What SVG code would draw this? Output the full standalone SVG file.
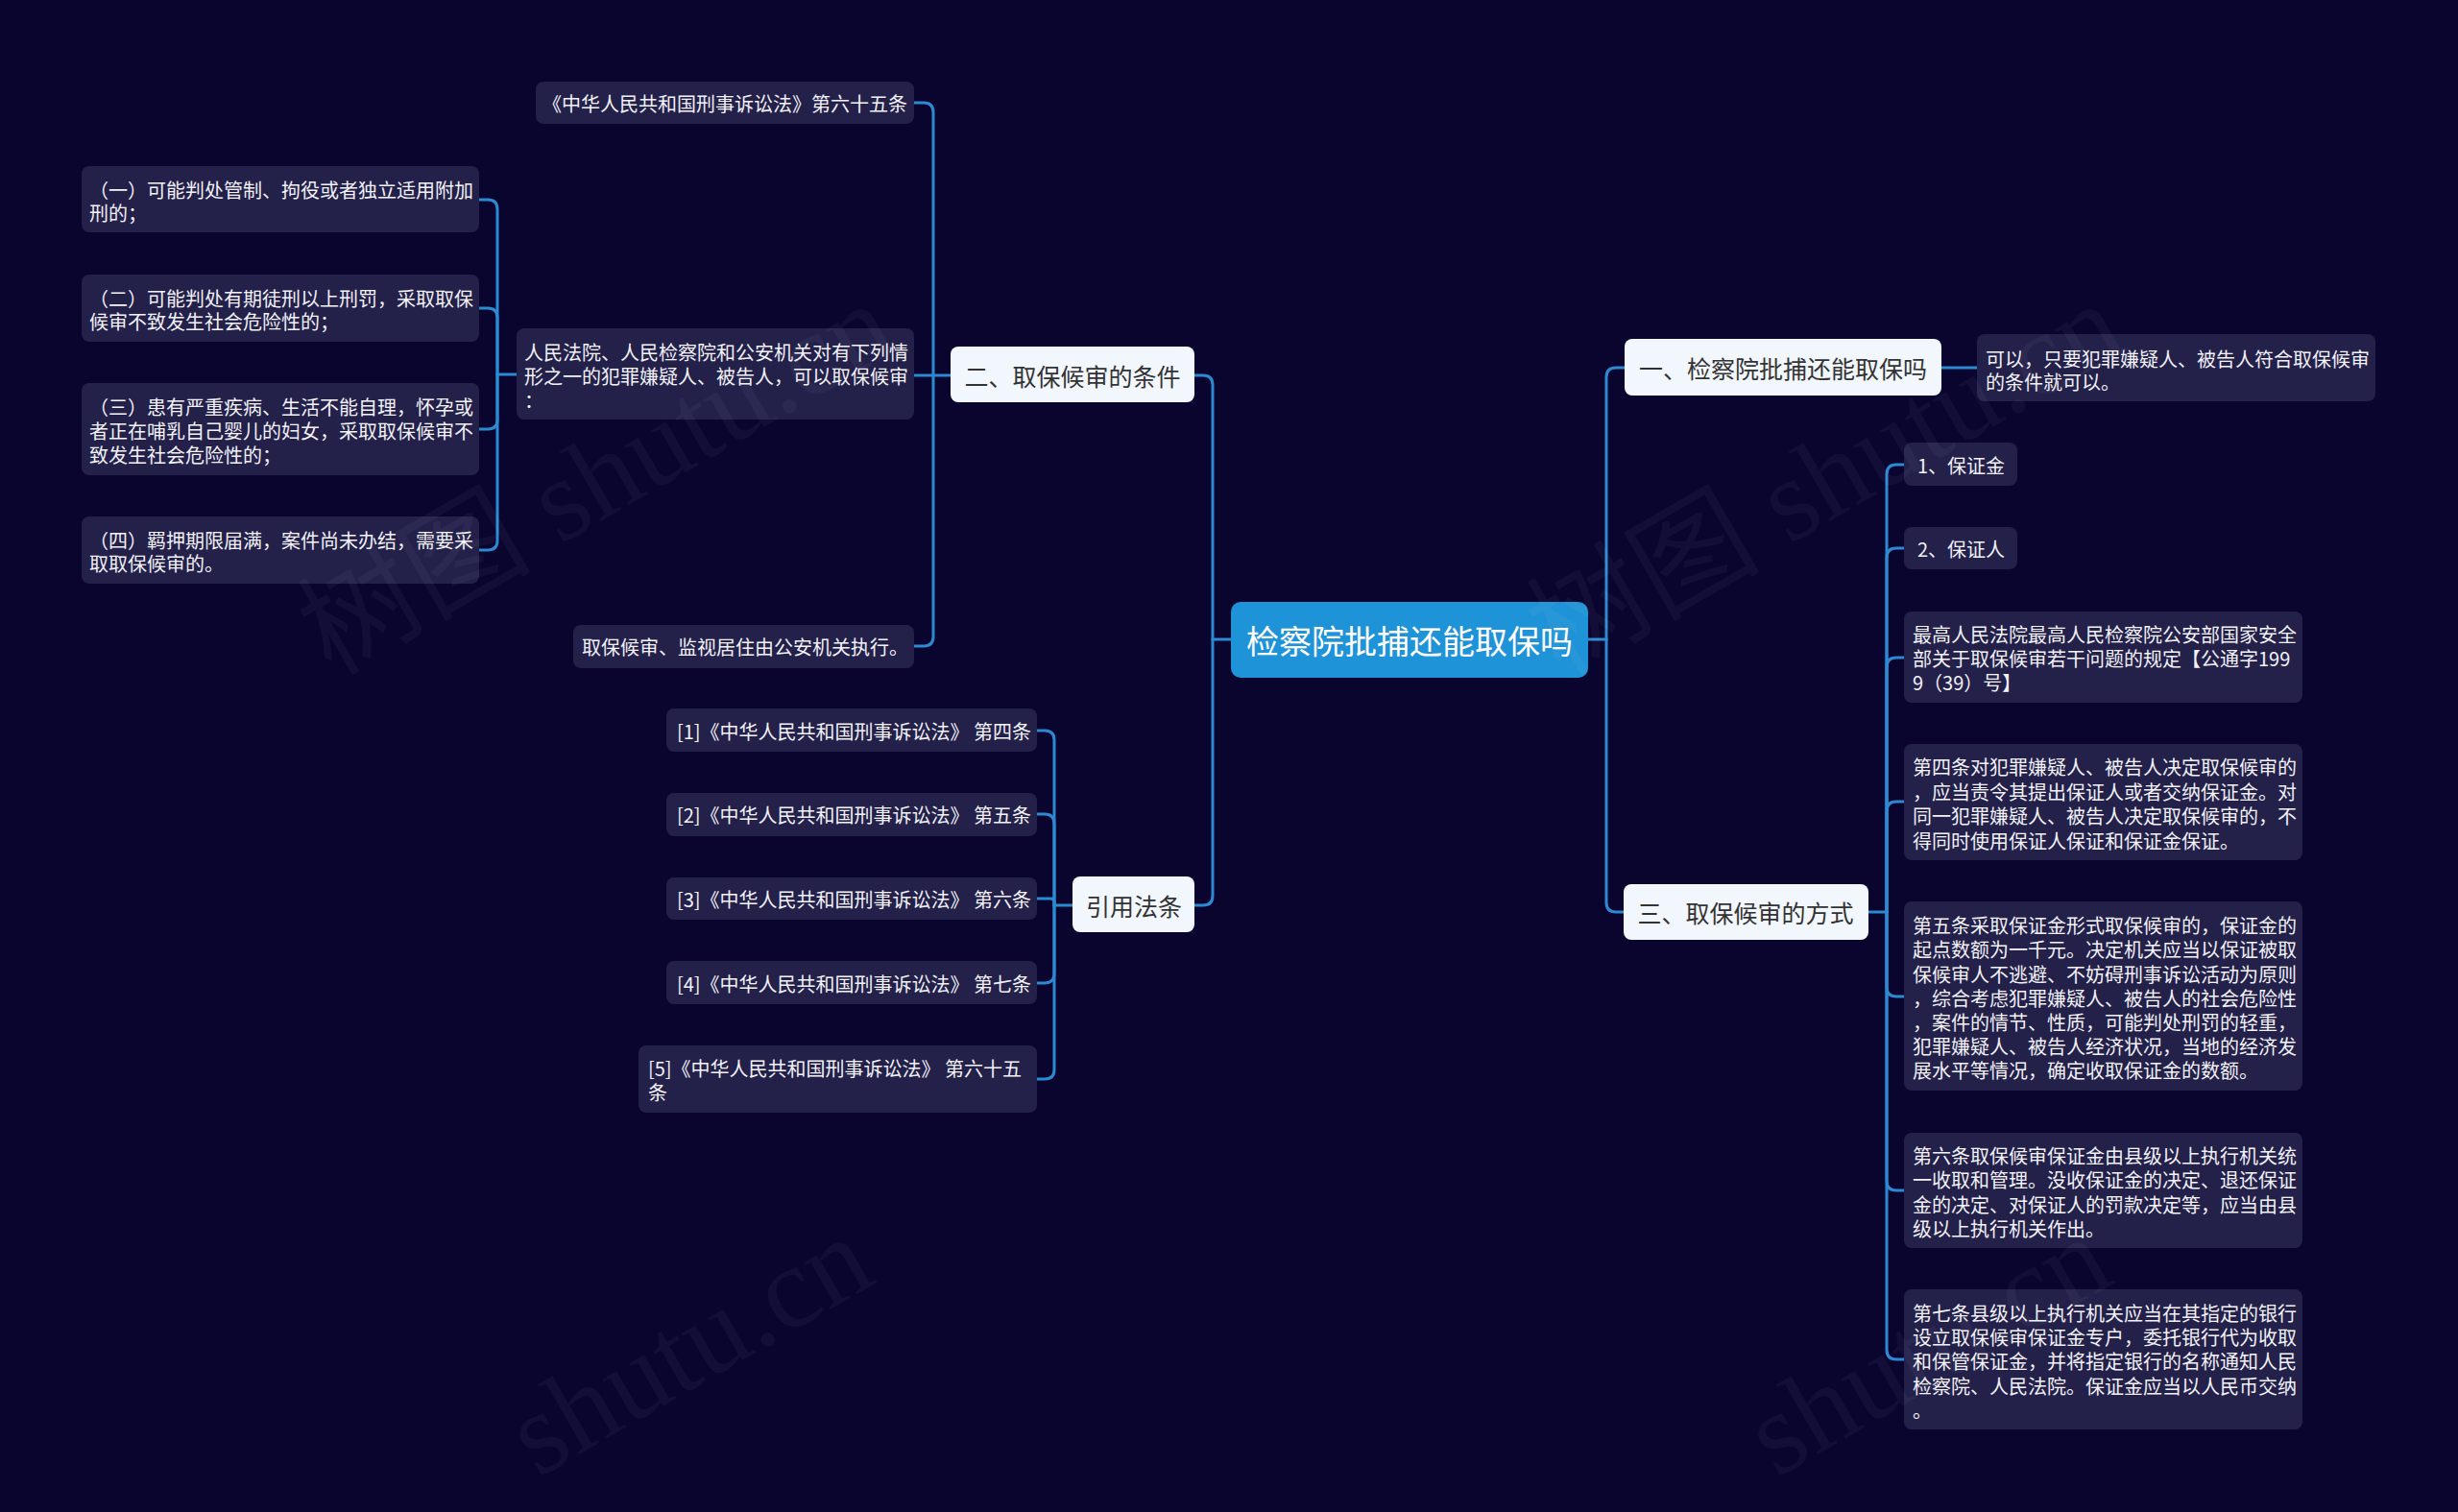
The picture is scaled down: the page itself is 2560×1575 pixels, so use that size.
<svg xmlns="http://www.w3.org/2000/svg" width="2560" height="1575" viewBox="0 0 2560 1575">
<style>
.leaf{fill:#23204a}
.l1{fill:#f2f6fd}
.root{fill:#1f93d7}
.t{font-family:"Noto Sans CJK SC","Noto Sans",sans-serif;font-size:20px;fill:#f1f1f6;dominant-baseline:central}
.t1{font-family:"Noto Sans CJK SC","Noto Sans",sans-serif;font-size:25px;fill:#333333;text-anchor:middle;dominant-baseline:central}
.t0{font-family:"Noto Sans CJK SC","Noto Sans",sans-serif;font-size:34px;fill:#ffffff;text-anchor:middle;dominant-baseline:central}
.edge{fill:none;stroke:#2b8ad2;stroke-width:3;stroke-linecap:round;stroke-linejoin:round}
.wm{font-family:"Liberation Serif","Noto Sans CJK SC",serif;font-size:122px;fill:#ffffff;fill-opacity:0.04}
</style>
<rect x="0" y="0" width="2560" height="1575" fill="#09052f"/>
<g id="connectors">
<path class="edge" d="M1282,666 H1263"/>
<path class="edge" d="M1263,666 V401 Q1263,391 1253,391 H1244"/>
<path class="edge" d="M1263,666 V933 Q1263,943 1253,943 H1244"/>
<path class="edge" d="M990,391 H952"/>
<path class="edge" d="M972,391 V117 Q972,107 962,107 H952"/>
<path class="edge" d="M972,391 V663 Q972,673 962,673 H952"/>
<path class="edge" d="M538,390 H518"/>
<path class="edge" d="M518,390 V218 Q518,208 508,208 H499"/>
<path class="edge" d="M518,390 V331 Q518,321 508,321 H499"/>
<path class="edge" d="M518,390 V437 Q518,447 508,447 H499"/>
<path class="edge" d="M518,390 V563 Q518,573 508,573 H499"/>
<path class="edge" d="M1117,943 H1098"/>
<path class="edge" d="M1098,943 V771 Q1098,761 1088,761 H1080"/>
<path class="edge" d="M1098,943 V858 Q1098,848 1088,848 H1080"/>
<path class="edge" d="M1098,943 V940 Q1098,936 1094,936 H1080"/>
<path class="edge" d="M1098,943 V1014 Q1098,1024 1088,1024 H1080"/>
<path class="edge" d="M1098,943 V1114 Q1098,1124 1088,1124 H1080"/>
<path class="edge" d="M1654,666 H1673"/>
<path class="edge" d="M1673,666 V393 Q1673,383 1683,383 H1692"/>
<path class="edge" d="M1673,666 V940 Q1673,950 1683,950 H1691"/>
<path class="edge" d="M2022,383 H2059"/>
<path class="edge" d="M1946,950 H1965"/>
<path class="edge" d="M1965,950 V494 Q1965,484 1975,484 H1983"/>
<path class="edge" d="M1965,950 V581 Q1965,571 1975,571 H1983"/>
<path class="edge" d="M1965,950 V695 Q1965,685 1975,685 H1983"/>
<path class="edge" d="M1965,950 V845 Q1965,835 1975,835 H1983"/>
<path class="edge" d="M1965,950 V1028 Q1965,1038 1975,1038 H1983"/>
<path class="edge" d="M1965,950 V1230 Q1965,1240 1975,1240 H1983"/>
<path class="edge" d="M1965,950 V1406 Q1965,1416 1975,1416 H1983"/>
</g>
<g id="root">
<rect class="root" x="1282" y="627" width="372" height="79" rx="10"/>
<text class="t0" x="1468" y="666">检察院批捕还能取保吗</text>
</g>
<g id="n-tiaojian">
<rect class="l1" x="990" y="361" width="254" height="58" rx="8"/>
<text class="t1" x="1117" y="391">二、取保候审的条件</text>
</g>
<g id="n-yinyong">
<rect class="l1" x="1117" y="913" width="127" height="58" rx="8"/>
<text class="t1" x="1181" y="943">引用法条</text>
</g>
<g id="n-yi">
<rect class="l1" x="1692" y="353" width="330" height="59" rx="8"/>
<text class="t1" x="1857" y="383">一、检察院批捕还能取保吗</text>
</g>
<g id="n-san">
<rect class="l1" x="1691" y="921" width="255" height="58" rx="8"/>
<text class="t1" x="1818" y="950">三、取保候审的方式</text>
</g>
<g id="n-a65">
<rect class="leaf" x="558" y="85" width="394" height="44" rx="8"/>
<text class="t" x="565" y="107">《中华人民共和国刑事诉讼法》第六十五条</text>
</g>
<g id="n-renmin">
<rect class="leaf" x="538" y="342" width="414" height="95" rx="8"/>
<text class="t"><tspan x="546" y="366">人民法院、人民检察院和公安机关对有下列情</tspan><tspan x="546" y="391">形之一的犯罪嫌疑人、被告人，可以取保候审</tspan><tspan x="546" y="416">：</tspan></text>
</g>
<g id="n-zhixing">
<rect class="leaf" x="597" y="651" width="355" height="45" rx="8"/>
<text class="t" x="606" y="673">取保候审、监视居住由公安机关执行。</text>
</g>
<g id="n-c1">
<rect class="leaf" x="85" y="173" width="414" height="69" rx="8"/>
<text class="t"><tspan x="93" y="197">（一）可能判处管制、拘役或者独立适用附加</tspan><tspan x="93" y="221">刑的；</tspan></text>
</g>
<g id="n-c2">
<rect class="leaf" x="85" y="286" width="414" height="70" rx="8"/>
<text class="t"><tspan x="93" y="310">（二）可能判处有期徒刑以上刑罚，采取取保</tspan><tspan x="93" y="334">候审不致发生社会危险性的；</tspan></text>
</g>
<g id="n-c3">
<rect class="leaf" x="85" y="399" width="414" height="96" rx="8"/>
<text class="t"><tspan x="93" y="423">（三）患有严重疾病、生活不能自理，怀孕或</tspan><tspan x="93" y="448">者正在哺乳自己婴儿的妇女，采取取保候审不</tspan><tspan x="93" y="473">致发生社会危险性的；</tspan></text>
</g>
<g id="n-c4">
<rect class="leaf" x="85" y="538" width="414" height="70" rx="8"/>
<text class="t"><tspan x="93" y="562">（四）羁押期限届满，案件尚未办结，需要采</tspan><tspan x="93" y="586">取取保候审的。</tspan></text>
</g>
<g id="n-r1">
<rect class="leaf" x="694" y="738" width="386" height="45" rx="8"/>
<text class="t" x="705" y="761">[1]《中华人民共和国刑事诉讼法》 第四条</text>
</g>
<g id="n-r2">
<rect class="leaf" x="694" y="826" width="386" height="45" rx="8"/>
<text class="t" x="705" y="848">[2]《中华人民共和国刑事诉讼法》 第五条</text>
</g>
<g id="n-r3">
<rect class="leaf" x="694" y="914" width="386" height="44" rx="8"/>
<text class="t" x="705" y="936">[3]《中华人民共和国刑事诉讼法》 第六条</text>
</g>
<g id="n-r4">
<rect class="leaf" x="694" y="1001" width="386" height="45" rx="8"/>
<text class="t" x="705" y="1024">[4]《中华人民共和国刑事诉讼法》 第七条</text>
</g>
<g id="n-r5">
<rect class="leaf" x="665" y="1089" width="415" height="70" rx="8"/>
<text class="t"><tspan x="675" y="1112">[5]《中华人民共和国刑事诉讼法》 第六十五</tspan><tspan x="675" y="1137">条</tspan></text>
</g>
<g id="n-keyi">
<rect class="leaf" x="2059" y="348" width="415" height="70" rx="8"/>
<text class="t"><tspan x="2068" y="373">可以，只要犯罪嫌疑人、被告人符合取保候审</tspan><tspan x="2068" y="397">的条件就可以。</tspan></text>
</g>
<g id="n-bzj">
<rect class="leaf" x="1983" y="461" width="118" height="45" rx="8"/>
<text class="t" x="1997" y="484">1、保证金</text>
</g>
<g id="n-bzr">
<rect class="leaf" x="1983" y="549" width="118" height="44" rx="8"/>
<text class="t" x="1997" y="571">2、保证人</text>
</g>
<g id="n-guiding">
<rect class="leaf" x="1983" y="637" width="415" height="95" rx="8"/>
<text class="t"><tspan x="1992" y="660">最高人民法院最高人民检察院公安部国家安全</tspan><tspan x="1992" y="685">部关于取保候审若干问题的规定【公通字199</tspan><tspan x="1992" y="710">9（39）号】</tspan></text>
</g>
<g id="n-di4">
<rect class="leaf" x="1983" y="775" width="415" height="121" rx="8"/>
<text class="t"><tspan x="1992" y="798">第四条对犯罪嫌疑人、被告人决定取保候审的</tspan><tspan x="1992" y="824">，应当责令其提出保证人或者交纳保证金。对</tspan><tspan x="1992" y="849">同一犯罪嫌疑人、被告人决定取保候审的，不</tspan><tspan x="1992" y="875">得同时使用保证人保证和保证金保证。</tspan></text>
</g>
<g id="n-di5">
<rect class="leaf" x="1983" y="939" width="415" height="197" rx="8"/>
<text class="t"><tspan x="1992" y="963">第五条采取保证金形式取保候审的，保证金的</tspan><tspan x="1992" y="988">起点数额为一千元。决定机关应当以保证被取</tspan><tspan x="1992" y="1014">保候审人不逃避、不妨碍刑事诉讼活动为原则</tspan><tspan x="1992" y="1039">，综合考虑犯罪嫌疑人、被告人的社会危险性</tspan><tspan x="1992" y="1064">，案件的情节、性质，可能判处刑罚的轻重，</tspan><tspan x="1992" y="1089">犯罪嫌疑人、被告人经济状况，当地的经济发</tspan><tspan x="1992" y="1114">展水平等情况，确定收取保证金的数额。</tspan></text>
</g>
<g id="n-di6">
<rect class="leaf" x="1983" y="1180" width="415" height="120" rx="8"/>
<text class="t"><tspan x="1992" y="1203">第六条取保候审保证金由县级以上执行机关统</tspan><tspan x="1992" y="1228">一收取和管理。没收保证金的决定、退还保证</tspan><tspan x="1992" y="1254">金的决定、对保证人的罚款决定等，应当由县</tspan><tspan x="1992" y="1279">级以上执行机关作出。</tspan></text>
</g>
<g id="n-di7">
<rect class="leaf" x="1983" y="1343" width="415" height="146" rx="8"/>
<text class="t"><tspan x="1992" y="1367">第七条县级以上执行机关应当在其指定的银行</tspan><tspan x="1992" y="1392">设立取保候审保证金专户，委托银行代为收取</tspan><tspan x="1992" y="1417">和保管保证金，并将指定银行的名称通知人民</tspan><tspan x="1992" y="1443">检察院、人民法院。保证金应当以人民币交纳</tspan><tspan x="1992" y="1468">。</tspan></text>
</g>
<g id="watermark">
<text class="wm" transform="translate(345,705) rotate(-30)">树图 shutu.cn</text>
<text class="wm" transform="translate(1625,705) rotate(-30)">树图 shutu.cn</text>
<text class="wm" transform="translate(560,1540) rotate(-30)">shutu.cn</text>
<text class="wm" transform="translate(1850,1540) rotate(-30)">shutu.cn</text>
</g>
</svg>
